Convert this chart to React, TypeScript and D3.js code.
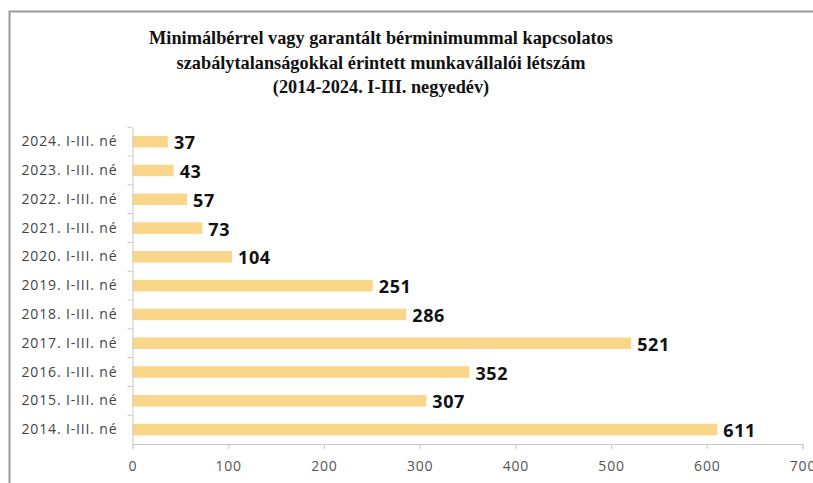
import React, { useEffect, useRef } from 'react';
import * as d3 from 'd3';

const titleLines = [
  'Minimálbérrel vagy garantált bérminimummal kapcsolatos',
  'szabálytalanságokkal érintett munkavállalói létszám',
  '(2014-2024. I-III. negyedév)',
];
const categories = [
  '2024. I-III. né', '2023. I-III. né', '2022. I-III. né', '2021. I-III. né',
  '2020. I-III. né', '2019. I-III. né', '2018. I-III. né', '2017. I-III. né',
  '2016. I-III. né', '2015. I-III. né', '2014. I-III. né',
];
const values = [37, 43, 57, 73, 104, 251, 286, 521, 352, 307, 611];
const xTicks = [0, 100, 200, 300, 400, 500, 600, 700];

const App = () => {
  const ref = useRef<SVGSVGElement>(null);

  useEffect(() => {
    const width = 813;
    const height = 483;
    const svg = d3.select(ref.current);
    svg.selectAll('*').remove();

    // frame (only top and left edges are in view)
    svg.append('path')
      .attr('d', `M9.5,${height} V11.5 H${width}`)
      .attr('fill', 'none')
      .attr('stroke', '#999')
      .attr('stroke-width', 2);

    // title
    svg.append('g')
      .selectAll('text')
      .data(titleLines)
      .enter()
      .append('text')
      .text(d => d)
      .attr('x', 381)
      .attr('y', (d, i) => 44 + i * 24.5)
      .attr('text-anchor', 'middle')
      .style('font-family', '"Liberation Serif", "Times New Roman", serif')
      .style('font-weight', 'bold')
      .style('font-size', '18.3px')
      .attr('fill', '#111');

    const x = d3.scaleLinear().domain([0, 700]).range([132.5, 802.5]);
    const y = d3.scaleBand().domain(categories).range([127.3, 444]).paddingInner(0.6).paddingOuter(0.3);

    // bars
    svg.append('g')
      .selectAll('rect')
      .data(values)
      .enter()
      .append('rect')
      .attr('x', x(0))
      .attr('y', (d, i) => y(categories[i]))
      .attr('width', d => x(d) - x(0))
      .attr('height', y.bandwidth())
      .attr('fill', '#F9D68A');

    // value labels
    svg.append('g')
      .selectAll('text')
      .data(values)
      .enter()
      .append('text')
      .text(d => d)
      .attr('x', d => x(d) + 6)
      .attr('y', (d, i) => y(categories[i]) + y.bandwidth() / 2 + 1)
      .attr('dy', '0.36em')
      .style('font-family', '"Open Sans", "DejaVu Sans", sans-serif')
      .style('font-weight', 'bold')
      .style('font-size', '18px')
      .style('letter-spacing', '0.6px')
      .attr('fill', '#111');

    // x axis
    const xAxis = svg.append('g')
      .attr('transform', 'translate(0,444)')
      .call(d3.axisBottom(x).tickValues(xTicks).tickSize(5).tickPadding(12).tickFormat(d3.format('d')));
    xAxis.select('.domain').attr('stroke', '#c8c8c8');
    xAxis.selectAll('line').attr('stroke', '#c8c8c8');
    xAxis.selectAll('text')
      .style('font-family', '"Open Sans", "DejaVu Sans", sans-serif')
      .style('font-size', '14px')
      .style('letter-spacing', '0.8px')
      .attr('fill', '#555');

    // y axis
    const yEdges = d3.scaleBand().domain(categories).range([127.3, 444]);
    const yAxis = svg.append('g')
      .attr('transform', 'translate(132.5,0)')
      .call(d3.axisLeft(y).tickSize(0).tickPadding(15));
    yAxis.select('.domain').attr('stroke', '#c8c8c8');
    yAxis.selectAll('text')
      .style('font-family', '"Open Sans", "DejaVu Sans", sans-serif')
      .style('font-size', '14px')
      .style('letter-spacing', '0.85px')
      .attr('fill', '#444');
    yAxis.append('g')
      .selectAll('line')
      .data(categories)
      .enter()
      .append('line')
      .attr('x1', -5)
      .attr('x2', 0)
      .attr('y1', d => yEdges(d) as number)
      .attr('y2', d => yEdges(d) as number)
      .attr('stroke', '#c8c8c8');
  }, []);

  return (
    <svg ref={ref} width={813} height={483} style={{ position: 'absolute', left: 0, top: 0, background: '#fff' }} />
  );
};

export default App;
